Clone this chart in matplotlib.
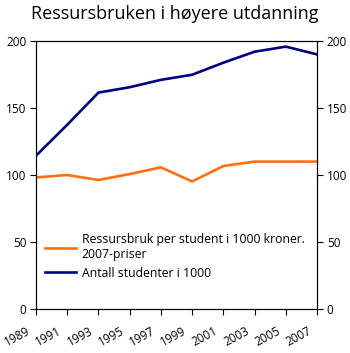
import matplotlib
matplotlib.use("Agg")
import matplotlib.pyplot as plt
from matplotlib.transforms import ScaledTranslation

years = ["1989", "1991", "1993", "1995", "1997", "1999", "2001", "2003", "2005", "2007"]
ressursbruk = [98.2, 100.0, 96.3, 100.7, 105.7, 95.2, 106.7, 110.0, 110.0, 110.0]
studenter = [114.4, 137.5, 161.5, 165.5, 171.0, 174.8, 183.8, 192.0, 195.8, 190.0]
yticks = [0, 50, 100, 150, 200]

plt.rcParams['font.family'] = ['Open Sans', 'DejaVu Sans']

fig = plt.figure(figsize=(3.5, 3.53), dpi=100)
ax = fig.add_axes([36/350, 1 - 309/353, (317-36)/350, (309-41)/353])

x = list(range(len(years)))
ax.plot(x, ressursbruk, color='#FF6F0F', lw=1.9, label='Ressursbruk per student i 1000 kroner.\n2007-priser', solid_joinstyle='miter')
ax.plot(x, studenter, color='#000080', lw=1.9, label='Antall studenter i 1000', solid_joinstyle='miter')

ax.set_xlim(0, len(years) - 1)
ax.set_ylim(0, 200)
ax.set_xticks(x)
ax.set_xticklabels([])
offset = ScaledTranslation(-0.065, -0.21, fig.dpi_scale_trans)
for xi, yr in zip(x, years):
    ax.text(xi, 0, yr, transform=ax.get_xaxis_transform() + offset,
            rotation=28, ha='right', va='center', rotation_mode='anchor', fontsize=8.5)
ax.set_yticks(yticks)
ax.tick_params(axis='y', labelsize=8.5, direction='out', length=4, width=0.8, pad=3)
ax.tick_params(axis='x', direction='out', length=4, width=0.8, pad=2)
for s in ax.spines.values():
    s.set_linewidth(0.8)

ax2 = ax.twinx()
ax2.set_ylim(0, 200)
ax2.set_yticks(yticks)
ax2.tick_params(axis='y', labelsize=8.5, direction='out', length=4, width=0.8, pad=3)
for s in ax2.spines.values():
    s.set_linewidth(0.8)

ax.legend(loc='upper left', bbox_to_anchor=(0.0, 0.315), frameon=False, fontsize=8.8,
          handlelength=2.6, handletextpad=0.45, labelspacing=0.45, borderaxespad=0.3)

fig.suptitle('Ressursbruken i høyere utdanning', fontsize=13, x=0.5, y=0.985, va='top')

fig.savefig('out.png', dpi=100)
